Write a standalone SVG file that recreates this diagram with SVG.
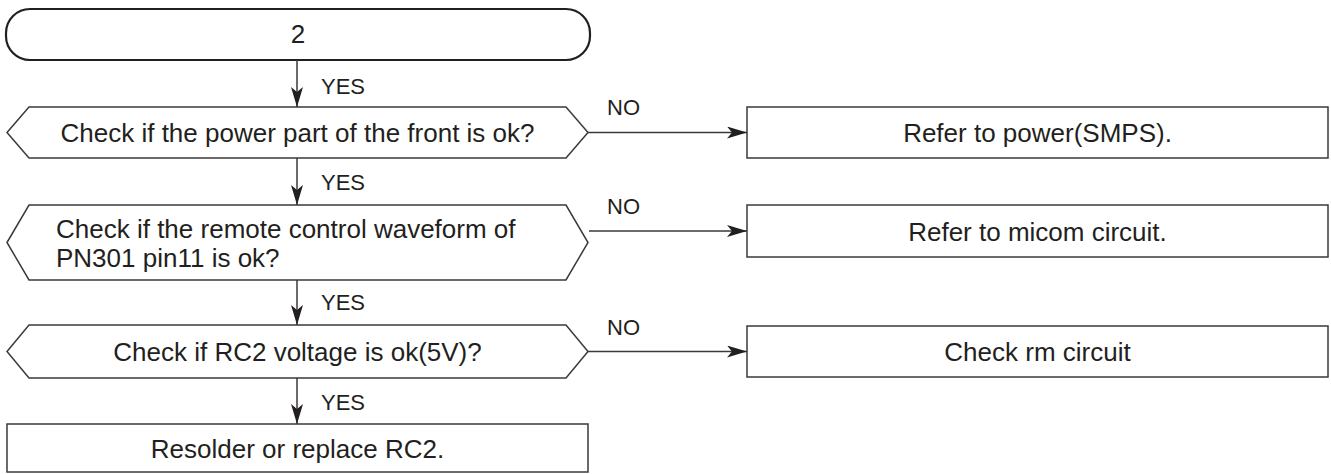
<svg xmlns="http://www.w3.org/2000/svg" width="1331" height="474" viewBox="0 0 1331 474">
<defs>
<style>
.shape{fill:#fff;stroke:#3a3a3a;stroke-width:1.5}
.term{fill:#fff;stroke:#231f20;stroke-width:2.2}
.t{font-family:"Liberation Sans",Arial,sans-serif;font-size:26px;fill:#231f20}
.c{text-anchor:middle}
.lab{font-family:"Liberation Sans",Arial,sans-serif;font-size:22px;fill:#231f20}
.conn{fill:none;stroke:#3a3a3a;stroke-width:1.5}
</style>
<marker id="ah" viewBox="0 0 20 12" refX="20" refY="6" markerWidth="20" markerHeight="12" markerUnits="userSpaceOnUse" orient="auto">
<path d="M0,0 L20,6 L0,12 L5,6 Z" fill="#231f20"/>
</marker>
</defs>
<rect width="1331" height="474" fill="#fff"/>
<g id="start">
<rect class="term" x="6" y="9" width="584" height="51" rx="24" ry="24"/>
<text class="t c" x="298" y="43">2</text>
</g>
<g id="q1">
<polygon class="shape" points="7,132.5 29,107 566,107 588,132.5 566,158 29,158"/>
<text class="t c" x="297.5" y="142">Check if the power part of the front is ok?</text>
</g>
<g id="q2">
<polygon class="shape" points="7,242.5 29,205 566,205 588,242.5 566,280 29,280"/>
<text class="t" x="56" y="238">Check if the remote control waveform of</text>
<text class="t" x="56" y="267">PN301 pin11 is ok?</text>
</g>
<g id="q3">
<polygon class="shape" points="7,351.5 29,325 566,325 588,351.5 566,378 29,378"/>
<text class="t c" x="297.5" y="361">Check if RC2 voltage is ok(5V)?</text>
</g>
<g id="end">
<rect class="shape" x="7" y="424" width="581" height="48"/>
<text class="t c" x="297.5" y="458">Resolder or replace RC2.</text>
</g>
<g id="r1">
<rect class="shape" x="747" y="107" width="581" height="51"/>
<text class="t c" x="1037.5" y="142">Refer to power(SMPS).</text>
</g>
<g id="r2">
<rect class="shape" x="747" y="205" width="581" height="52"/>
<text class="t c" x="1037.5" y="241">Refer to micom circuit.</text>
</g>
<g id="r3">
<rect class="shape" x="747" y="326" width="581" height="51"/>
<text class="t c" x="1037.5" y="361">Check rm circuit</text>
</g>
<g id="connectors">
<line class="conn" x1="297" y1="60" x2="297" y2="107" marker-end="url(#ah)"/>
<line class="conn" x1="297" y1="158" x2="297" y2="205" marker-end="url(#ah)"/>
<line class="conn" x1="297" y1="280" x2="297" y2="325" marker-end="url(#ah)"/>
<line class="conn" x1="297" y1="378" x2="297" y2="424" marker-end="url(#ah)"/>
<line class="conn" x1="588" y1="132.5" x2="747" y2="132.5" marker-end="url(#ah)"/>
<line class="conn" x1="589" y1="231" x2="747" y2="231" marker-end="url(#ah)"/>
<line class="conn" x1="588" y1="351.5" x2="747" y2="351.5" marker-end="url(#ah)"/>
<text class="lab" x="321" y="94">YES</text>
<text class="lab" x="321" y="190">YES</text>
<text class="lab" x="321" y="310">YES</text>
<text class="lab" x="321" y="410">YES</text>
<text class="lab" x="607" y="115">NO</text>
<text class="lab" x="607" y="214">NO</text>
<text class="lab" x="607" y="335">NO</text>
</g>
</svg>
